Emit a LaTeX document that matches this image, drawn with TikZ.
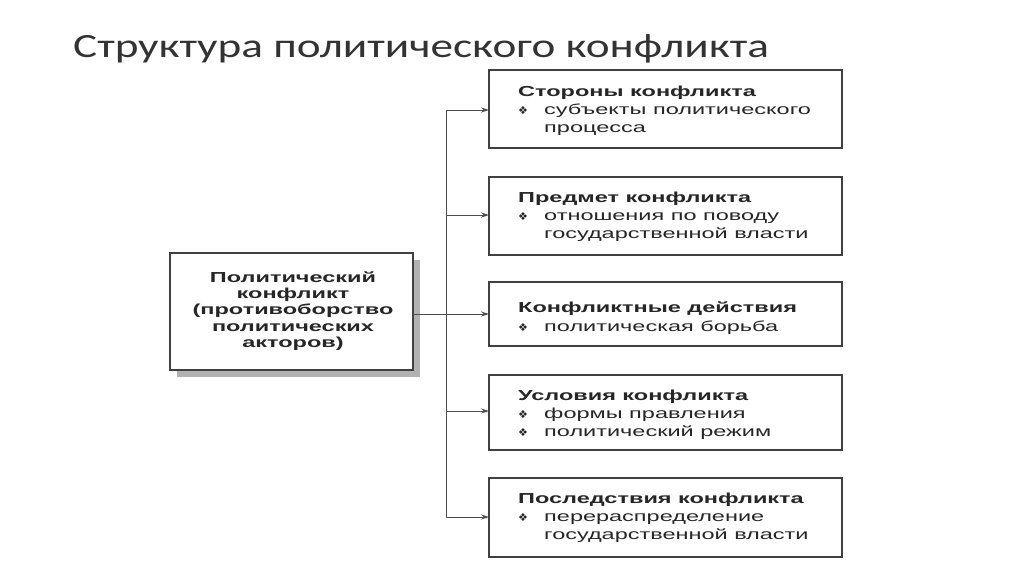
\documentclass[tikz,border=0pt]{standalone}
\usepackage{fontspec}
\setmainfont[FakeStretch=1.62]{Liberation Sans}
\newfontfamily\titlefont[FakeStretch=1.33]{Carlito}
\newfontfamily\symfont{DejaVu Sans}
\usetikzlibrary{arrows.meta,shadows}
\begin{document}
\begin{tikzpicture}[x=1pt,y=-1pt,
  rbox/.style={draw=black!75,line width=1.3pt,fill=white},
  txt/.style={anchor=north west,align=left,font=\fontsize{14.5}{18}\selectfont,text=black!85,inner sep=0pt},
  arr/.style={draw=black!70,line width=1pt,-{Stealth[length=8pt,width=5pt]}}]
\useasboundingbox (0,0) rectangle (1024,574);
\node[anchor=base west,inner sep=0pt,font=\titlefont\fontsize{34}{40}\selectfont,text=black!80] (title) at (73,57) {Структура политического конфликта};
\newcommand\bl{\makebox[26pt][l]{\symfont\fontsize{11}{12}\selectfont ❖}}
\foreach \n/\ya/\yb in {1/70/148,2/177/255,3/282/346,4/375/450,5/478/557}{
  \draw[rbox] (489,\ya) rectangle (842,\yb);
  \coordinate (b\n) at (489,{(\ya+\yb)/2});
}
\node[txt] (t1) at (518,86) {\textbf{Стороны конфликта}\\\bl субъекты политического\\\hphantom{\bl}процесса};
\node[txt] (t2) at (518,192) {\textbf{Предмет конфликта}\\\bl отношения по поводу\\\hphantom{\bl}государственной власти};
\node[txt] (t3) at (518,302) {\textbf{Конфликтные действия}\\\bl политическая борьба};
\node[txt] (t4) at (518,390) {\textbf{Условия конфликта}\\\bl формы правления\\\bl политический режим};
\node[txt] (t5) at (518,493) {\textbf{Последствия конфликта}\\\bl перераспределение\\\hphantom{\bl}государственной власти};
\fill[black!30] (177,260) rectangle (420,377);
\draw[rbox] (170,253) rectangle (413,370);
\node[align=center,font=\bfseries\fontsize{14.5}{16.3}\selectfont,text=black!85] (L) at (293,311) {Политический\\конфликт\\(противоборство\\политических\\акторов)};
\coordinate (j) at (446,314);
\coordinate (top) at (446,110);
\coordinate (bot) at (446,517);
\draw[draw=black!70,line width=1pt] (413,314) -- (j);
\draw[draw=black!70,line width=1pt] (top) -- (bot);
\foreach \n/\y in {1/110,2/215,3/314,4/411,5/517}
  \draw[arr] (446,\y) -- (b\n |- 0,\y);
\end{tikzpicture}
\end{document}
